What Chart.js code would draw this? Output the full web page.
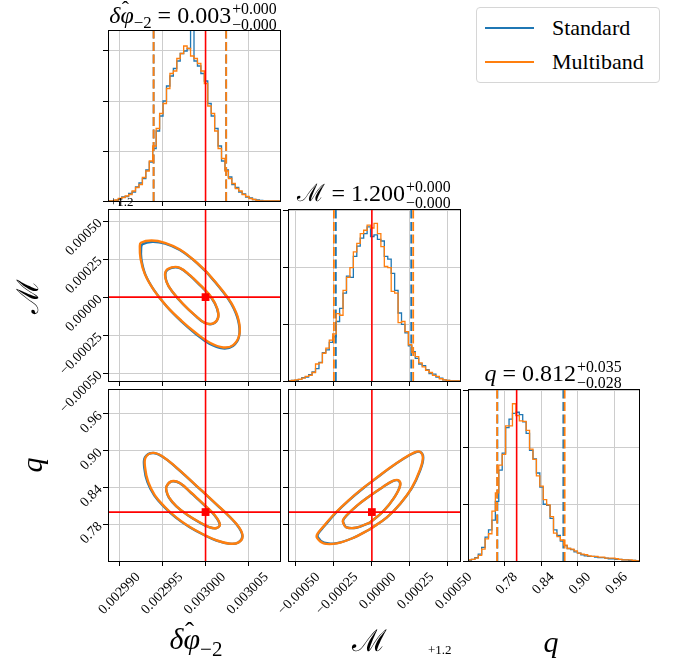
<!DOCTYPE html>
<html><head><meta charset="utf-8">
<script src="https://cdn.jsdelivr.net/npm/chart.js@4.4.0/dist/chart.umd.min.js"></script>
<style>
html,body{margin:0;padding:0;background:#fff;}
body{width:678px;height:662px;overflow:hidden;position:relative;font-family:"Liberation Serif",serif;color:#000;}
canvas{position:absolute;left:0;top:0;}
.tx{position:absolute;white-space:nowrap;line-height:1;}
.title{font-size:24px;transform:translateX(-50%);}
.ss{display:inline-block;vertical-align:-0.42em;font-size:0.66em;line-height:0.98;margin-left:1px;text-align:left;}
.ss span{display:block;}
.sb{font-size:0.7em;vertical-align:-0.32em;}
.cal{font-family:"DejaVu Serif",serif;font-style:normal;}
.hw{position:relative;display:inline-block;}
.hat{position:absolute;left:0.06em;top:-0.2em;font-style:normal;font-size:0.9em;}
.lab{font-size:30px;transform:translateX(-50%);}
.off{font-size:13px;}
.legend{position:absolute;left:476px;top:7px;width:184px;height:76px;border:1px solid #d6d6d6;border-radius:4px;box-sizing:border-box;background:#fff;}
.legend .row{position:absolute;left:8px;height:22px;}
.legend .ln{position:absolute;left:0;top:10px;width:49px;height:2px;}
.legend .lt{position:absolute;left:67px;top:0;font-size:22px;line-height:22px;}
</style></head><body>
<canvas id="p11" width="678" height="662"></canvas>
<canvas id="p21" width="678" height="662"></canvas>
<canvas id="p22" width="678" height="662"></canvas>
<canvas id="p31" width="678" height="662"></canvas>
<canvas id="p32" width="678" height="662"></canvas>
<canvas id="p33" width="678" height="662"></canvas>

<div class="tx title" style="left:193px;top:1px;"><i>δ</i><span class="hw"><i>φ</i><span class="hat">ˆ</span></span><span class="sb">−2</span> = 0.003<span class="ss"><span>+0.000</span><span>−0.000</span></span></div>
<div class="tx title" style="left:374px;top:179px;"><span class="cal">ℳ</span> = 1.200<span class="ss"><span>+0.000</span><span>−0.000</span></span></div>
<div class="tx title" style="left:553px;top:359px;"><i>q</i> = 0.812<span class="ss"><span>+0.035</span><span>−0.028</span></span></div>

<div class="tx lab" style="left:196px;top:624px;"><i>δ</i><span class="hw"><i>φ</i><span class="hat">ˆ</span></span><span class="sb">−2</span></div>
<div class="tx lab" style="left:369px;top:626px;"><span class="cal">ℳ</span></div>
<div class="tx lab" style="left:551px;top:627px;"><i>q</i></div>
<div class="tx lab" style="left:28px;top:281px;transform:translateX(-50%) rotate(-90deg);"><span class="cal">ℳ</span></div>
<div class="tx lab" style="left:32px;top:450px;transform:translateX(-50%) rotate(-90deg);"><i>q</i></div>
<div class="tx off" style="left:110px;top:195px;">+1.2</div>
<div class="tx off" style="left:428px;top:643px;">+1.2</div>

<div class="legend">
  <div class="row" style="top:9px;"><div class="ln" style="background:#1f77b4;"></div><div class="lt">Standard</div></div>
  <div class="row" style="top:43px;"><div class="ln" style="background:#ff7f0e;"></div><div class="lt">Multiband</div></div>
</div>

<script>
// ---------------- data ----------------
const PHI_RANGE = [0.0029886, 0.0030087];
const MC_RANGE = [-0.000552, 0.00058];
const Q_RANGE = [0.7203, 1.0005];
const HIST_PHI_YMAX = 3.42;
const HIST_MC_YMAX = 3.035;
const HIST_Q_YMAX = 3.03;

const phiTicks = [0.00299, 0.002995, 0.003, 0.003005];
const phiTickLabels = ['0.002990', '0.002995', '0.003000', '0.003005'];
const mcTicks = [-0.0005, -0.00025, 0, 0.00025, 0.0005];
const mcTickLabels = ['\u22120.00050', '\u22120.00025', '0.00000', '0.00025', '0.00050'];
const qTicks = [0.78, 0.84, 0.90, 0.96];
const qTickLabels = ['0.78', '0.84', '0.90', '0.96'];
const histTicks = [0, 1, 2, 3];

const TRUE_PHI = 0.003;
const TRUE_MC = 0;
const TRUE_Q = 0.8;

const phiQuantStd = [0.00299393, 0.00300241];
const phiQuantMb = [0.00299393, 0.00300241];
const mcQuantStd = [-0.000237, 0.000259];
const mcQuantMb = [-0.00025, 0.000272];
const qQuantStd = [0.7685, 0.8765];
const qQuantMb = [0.7680, 0.8787];

const phiHistStd = [0,0,0,0.01,0.04,0.08,0.09,0.15,0.18,0.28, 0.36,0.45,0.62,0.78,1.05,1.40,1.70,2.00,2.30,2.50, 2.65,2.80,2.95,3.00,3.05,3.80,2.80,2.70,2.55,2.40, 1.95,1.70,1.45,1.10,0.80,0.62,0.48,0.33,0.27,0.18, 0.14,0.08,0.06,0.03,0.02,0.01,0,0,0,0];
const phiHistMb = [0,0,0,0.02,0.05,0.07,0.10,0.13,0.20,0.27, 0.33,0.47,0.60,0.80,1.10,1.45,1.75,1.95,2.25,2.55, 2.60,2.85,2.95,3.10,3.05,2.90,2.85,2.75,2.60,2.35, 1.90,1.75,1.40,1.05,0.85,0.60,0.45,0.35,0.25,0.20, 0.13,0.09,0.05,0.03,0.01,0,0,0,0,0];
const mcHistStd = [0,0,0.01,0.01,0.03,0.06,0.07,0.11,0.16,0.22, 0.33,0.50,0.55,0.68,0.78,1.05,1.28,1.55,1.85,1.83, 2.20,2.38,2.52,2.60,2.72,2.55,2.58,2.50,2.47,2.20, 2.15,1.90,1.60,1.20,1.00,0.85,0.62,0.52,0.40,0.30, 0.27,0.20,0.13,0.12,0.07,0.05,0.02,0.01,0,0];
const mcHistMb = [0,0,0.01,0.02,0.03,0.05,0.08,0.10,0.15,0.30, 0.32,0.49,0.58,0.72,0.83,1.19,1.16,1.60,1.83,2.00, 2.28,2.43,2.60,2.66,2.75,2.70,2.78,2.60,2.37,2.02, 2.00,1.58,1.55,1.03,1.05,0.87,0.64,0.50,0.43,0.32, 0.25,0.19,0.15,0.10,0.08,0.04,0.02,0.01,0,0];
const qHistStd = [0,0.01,0.03,0.06,0.12,0.24,0.42,0.55,0.72,1.05, 1.60,1.90,2.35,2.50,2.60,2.62,2.58,2.45,2.25,1.95, 1.80,1.55,1.30,1.00,0.98,0.75,0.55,0.45,0.35,0.27, 0.22,0.20,0.16,0.14,0.11,0.09,0.08,0.08,0.07,0.06, 0.06,0.05,0.04,0.04,0.03,0.03,0.02,0.02,0.01,0.01];
const qHistMb = [0,0.02,0.03,0.05,0.10,0.21,0.39,0.48,0.88,1.20, 1.69,1.88,2.38,2.38,2.77,2.56,2.47,2.46,2.30,1.97, 1.79,1.50,1.32,1.08,0.99,0.78,0.49,0.43,0.37,0.28, 0.22,0.21,0.18,0.14,0.12,0.11,0.09,0.08,0.08,0.07, 0.07,0.05,0.05,0.05,0.04,0.03,0.02,0.02,0.02,0.01];

// contour vertices: [x, y]
const stdPhiMcOuter = [[0.00300012,1.64e-4],[0.00300166,6.2e-5],[0.00300300,-4.3e-5],[0.00300382,-1.55e-4],[0.00300392,-2.58e-4],[0.00300320,-3.22e-4],[0.00300200,-3.37e-4],[0.00300045,-3.07e-4],[0.00299890,-2.44e-4],[0.00299717,-1.60e-4],[0.00299546,-6.2e-5],[0.00299400,4.4e-5],[0.00299297,1.48e-4],[0.00299250,2.50e-4],[0.00299247,3.22e-4],[0.00299262,3.48e-4],[0.00299378,3.64e-4],[0.00299528,3.52e-4],[0.00299700,3.10e-4],[0.00299856,2.45e-4]];
const mbPhiMcOuter = [[0.00300012,1.667e-4],[0.00300168,6.36e-5],[0.00300304,-4.17e-5],[0.00300386,-1.513e-4],[0.00300394,-2.50e-4],[0.00300323,-3.158e-4],[0.00300207,-3.311e-4],[0.00300051,-3.004e-4],[0.00299895,-2.390e-4],[0.00299719,-1.557e-4],[0.00299544,-5.92e-5],[0.00299396,4.61e-5],[0.00299291,1.513e-4],[0.00299240,2.544e-4],[0.00299232,3.311e-4],[0.00299244,3.575e-4],[0.00299369,3.728e-4],[0.00299525,3.575e-4],[0.00299700,3.136e-4],[0.00299856,2.478e-4]];
const stdPhiMcInner = [[0.00299950,7.0e-5],[0.00300068,-4e-6],[0.00300134,-7.6e-5],[0.00300146,-1.35e-4],[0.00300088,-1.75e-4],[0.00299990,-1.70e-4],[0.00299873,-1.19e-4],[0.00299738,-4.7e-5],[0.00299614,3.4e-5],[0.00299546,9.9e-5],[0.00299535,1.64e-4],[0.00299604,1.93e-4],[0.00299700,1.91e-4],[0.00299815,1.43e-4]];
const mbPhiMcInner = [[0.00299953,7.24e-5],[0.00300070,-2.2e-6],[0.00300136,-7.46e-5],[0.00300148,-1.338e-4],[0.00300090,-1.732e-4],[0.00299992,-1.689e-4],[0.00299875,-1.184e-4],[0.00299739,-4.61e-5],[0.00299614,3.51e-5],[0.00299544,1.009e-4],[0.00299532,1.667e-4],[0.00299603,1.952e-4],[0.00299700,1.930e-4],[0.00299817,1.447e-4]];

const stdPhiQOuter = [[0.00299817,0.8525],[0.00299973,0.8324],[0.00300129,0.8122],[0.00300285,0.7917],[0.00300392,0.7743],[0.00300430,0.7602],[0.00300383,0.7505],[0.00300283,0.7484],[0.00300127,0.7537],[0.00299971,0.7634],[0.00299815,0.7752],[0.00299657,0.7905],[0.00299519,0.8080],[0.00299400,0.8272],[0.00299320,0.8492],[0.00299285,0.8712],[0.00299292,0.8890],[0.00299385,0.8962],[0.00299503,0.8896],[0.00299660,0.8722]];
const mbPhiQOuter = [[0.00299817,0.8529],[0.00299973,0.8328],[0.00300129,0.8126],[0.00300285,0.7920],[0.00300394,0.7746],[0.00300433,0.7604],[0.00300386,0.7506],[0.00300285,0.7485],[0.00300129,0.7539],[0.00299973,0.7637],[0.00299817,0.7756],[0.00299661,0.7909],[0.00299525,0.8083],[0.00299408,0.8273],[0.00299330,0.8491],[0.00299295,0.8708],[0.00299299,0.8888],[0.00299388,0.8964],[0.00299505,0.8899],[0.00299661,0.8725]];
const stdPhiQInner = [[0.00299834,0.8307],[0.00299978,0.8122],[0.00300107,0.7944],[0.00300166,0.7798],[0.00300127,0.7738],[0.00300041,0.7754],[0.00299924,0.7835],[0.00299784,0.7955],[0.00299659,0.8091],[0.00299573,0.8233],[0.00299542,0.8342],[0.00299543,0.8417],[0.00299602,0.8499],[0.00299699,0.8472]];
const mbPhiQInner = [[0.00299836,0.8311],[0.00299980,0.8126],[0.00300109,0.7947],[0.00300168,0.7800],[0.00300129,0.7740],[0.00300043,0.7756],[0.00299926,0.7838],[0.00299786,0.7958],[0.00299661,0.8094],[0.00299575,0.8235],[0.00299544,0.8344],[0.00299544,0.8420],[0.00299603,0.8502],[0.00299700,0.8475]];

const stdMcQOuter = [[-1.3e-5,0.7720],[9.7e-5,0.7910],[1.86e-4,0.8133],[2.64e-4,0.8395],[3.16e-4,0.8668],[3.38e-4,0.8886],[3.16e-4,0.8980],[2.74e-4,0.8958],[2.03e-4,0.8860],[1.20e-4,0.8720],[3.2e-5,0.8557],[-5.5e-5,0.8393],[-1.53e-4,0.8188],[-2.39e-4,0.7983],[-3.14e-4,0.7768],[-3.52e-4,0.7652],[-3.56e-4,0.7590],[-3.15e-4,0.7500],[-2.30e-4,0.7495],[-1.22e-4,0.7580]];
const mbMcQOuter = [[-1.1e-5,0.7724],[9.87e-5,0.7914],[1.864e-4,0.8137],[2.632e-4,0.8398],[3.136e-4,0.8670],[3.355e-4,0.8888],[3.136e-4,0.8986],[2.741e-4,0.8964],[2.039e-4,0.8866],[1.206e-4,0.8725],[3.29e-5,0.8562],[-5.48e-5,0.8398],[-1.535e-4,0.8192],[-2.412e-4,0.7985],[-3.180e-4,0.7767],[-3.575e-4,0.7648],[-3.618e-4,0.7582],[-3.180e-4,0.7490],[-2.303e-4,0.7490],[-1.206e-4,0.7582]];
const stdMcQInner = [[-1.2e-5,0.7830],[7.6e-5,0.8015],[1.46e-4,0.8232],[1.85e-4,0.8428],[1.74e-4,0.8513],[1.37e-4,0.8503],[7.1e-5,0.8405],[-1.2e-5,0.8265],[-9.9e-5,0.8102],[-1.64e-4,0.7950],[-1.89e-4,0.7865],[-1.85e-4,0.7812],[-1.68e-4,0.7753],[-1.03e-4,0.7745]];
const mbMcQInner = [[-1.1e-5,0.7833],[7.68e-5,0.8018],[1.469e-4,0.8235],[1.864e-4,0.8431],[1.754e-4,0.8518],[1.382e-4,0.8507],[7.24e-5,0.8409],[-1.1e-5,0.8268],[-9.87e-5,0.8105],[-1.645e-4,0.7952],[-1.908e-4,0.7865],[-1.864e-4,0.7811],[-1.689e-4,0.7751],[-1.031e-4,0.7746]];

// ---------------- drawing ----------------
const W = 678, H = 662;
const YW = 100, XH = 80;   // room reserved for tick labels
const C_STD = '#1f77b4', C_MB = '#ff7f0e', C_TRUE = '#ff0000';
const GRID = '#cdcdcd';
const TICK_FONT = {family: 'Liberation Serif', size: 14};

function closed(arr) { return arr.concat([arr[0]]).map(p => ({x: p[0], y: p[1]})); }
function histPts(vals, range) {
  const step = (range[1] - range[0]) / vals.length;
  const out = [{x: range[0], y: 0}];
  vals.forEach((v, i) => out.push({x: range[0] + i * step, y: v}));
  out.push({x: range[1], y: 0});
  return out;
}
function vline(x, r) { return [{x: x, y: r[0]}, {x: x, y: r[1]}]; }
function hline(y, r) { return [{x: r[0], y: y}, {x: r[1], y: y}]; }

function ds(data, color, width, extra) {
  return Object.assign({data, borderColor: color, backgroundColor: color, borderWidth: width,
    pointRadius: 0, fill: false, tension: 0}, extra || {});
}

function axis(pos, range, ticks, labels, show, labelOffset) {
  return {
    type: 'linear', position: pos, min: range[0], max: range[1],
    afterBuildTicks: s => { s.ticks = ticks.map(v => ({value: v})); },
    afterFit: s => { if (pos === 'bottom') s.height = XH; else s.width = YW; },
    grid: {color: GRID, lineWidth: 1, drawTicks: true, tickLength: 5, tickColor: '#000', tickWidth: 1},
    border: {display: false},
    ticks: {autoSkip: false, minRotation: 45, maxRotation: 45, padding: 3, labelOffset: labelOffset || 0,
      color: '#000', font: TICK_FONT, callback: (v, i) => show ? labels[i] : ''}
  };
}

const frame = {
  id: 'frame',
  afterDraw(c) {
    const a = c.chartArea, ctx = c.ctx;
    ctx.save();
    ctx.strokeStyle = '#000'; ctx.lineWidth = 1;
    ctx.strokeRect(Math.round(a.left) + 0.5, Math.round(a.top) + 0.5, Math.round(a.right - a.left), Math.round(a.bottom - a.top));
    ctx.restore();
  }
};

function panel(id, area, xAx, yAx, datasets) {
  new Chart(document.getElementById(id), {
    type: 'line',
    data: {datasets},
    options: {
      responsive: false, animation: false, devicePixelRatio: 1, events: [],
      layout: {padding: {left: area[0] - YW, right: W - area[1], top: area[2], bottom: H - area[3] - XH}, autoPadding: false},
      plugins: {legend: {display: false}, tooltip: {enabled: false}},
      scales: {x: xAx, y: yAx}
    },
    plugins: [frame]
  });
}

const DASH = [9, 3.5];
function histPanel(id, area, range, ticks, labels, show, lo, ymax, vStd, vMb, qStd, qMb, truth) {
  const yr = [0, ymax + 1];
  panel(id, area,
    axis('bottom', range, ticks, labels, show, lo),
    axis('left', [0, ymax], histTicks, [], false),
    [
      ds(vline(truth, yr), C_TRUE, 1.6),
      ds(vline(qMb[0], yr), C_MB, 1.8, {borderDash: DASH}),
      ds(vline(qMb[1], yr), C_MB, 1.8, {borderDash: DASH}),
      ds(histPts(vMb, range), C_MB, 1.3, {stepped: 'after'}),
      ds(vline(qStd[0], yr), C_STD, 1.8, {borderDash: DASH}),
      ds(vline(qStd[1], yr), C_STD, 1.8, {borderDash: DASH}),
      ds(histPts(vStd, range), C_STD, 1.3, {stepped: 'after'})
    ]);
}

function contourPanel(id, area, xAx, yAx, xr, yr, tx, ty, so, si, mo, mi) {
  const cont = {tension: 0.4, borderJoinStyle: 'round', borderCapStyle: 'round'};
  panel(id, area, xAx, yAx, [
    ds([{x: tx, y: ty}], C_TRUE, 0, {pointRadius: 5.5, pointStyle: 'rect', showLine: false, pointBackgroundColor: C_TRUE, pointBorderWidth: 0}),
    ds(hline(ty, xr), C_TRUE, 1.6),
    ds(vline(tx, yr), C_TRUE, 1.6),
    ds(closed(mi), C_MB, 2.4, cont),
    ds(closed(mo), C_MB, 2.4, cont),
    ds(closed(si), C_STD, 2.4, cont),
    ds(closed(so), C_STD, 2.4, cont)
  ]);
}

const A11 = [108, 280, 30, 201];
const A21 = [108, 280, 209, 381];
const A22 = [288, 460, 209, 381];
const A31 = [108, 280, 389, 561];
const A32 = [288, 460, 389, 561];
const A33 = [468, 639, 389, 561];

histPanel('p11', A11, PHI_RANGE, phiTicks, phiTickLabels, false, 0, HIST_PHI_YMAX, phiHistStd, phiHistMb, phiQuantStd, phiQuantMb, TRUE_PHI);
histPanel('p22', A22, MC_RANGE, mcTicks, mcTickLabels, false, 0, HIST_MC_YMAX, mcHistStd, mcHistMb, mcQuantStd, mcQuantMb, TRUE_MC);
histPanel('p33', A33, Q_RANGE, qTicks, qTickLabels, true, 11, HIST_Q_YMAX, qHistStd, qHistMb, qQuantStd, qQuantMb, TRUE_Q);

contourPanel('p21', A21,
  axis('bottom', PHI_RANGE, phiTicks, phiTickLabels, false, 0),
  axis('left', MC_RANGE, mcTicks, mcTickLabels, true, 0),
  PHI_RANGE, MC_RANGE, TRUE_PHI, TRUE_MC, stdPhiMcOuter, stdPhiMcInner, mbPhiMcOuter, mbPhiMcInner);
contourPanel('p31', A31,
  axis('bottom', PHI_RANGE, phiTicks, phiTickLabels, true, 18),
  axis('left', Q_RANGE, qTicks, qTickLabels, true, 0),
  PHI_RANGE, Q_RANGE, TRUE_PHI, TRUE_Q, stdPhiQOuter, stdPhiQInner, mbPhiQOuter, mbPhiQInner);
contourPanel('p32', A32,
  axis('bottom', MC_RANGE, mcTicks, mcTickLabels, true, 22),
  axis('left', Q_RANGE, qTicks, qTickLabels, false, 0),
  MC_RANGE, Q_RANGE, TRUE_MC, TRUE_Q, stdMcQOuter, stdMcQInner, mbMcQOuter, mbMcQInner);
</script>
</body></html>
